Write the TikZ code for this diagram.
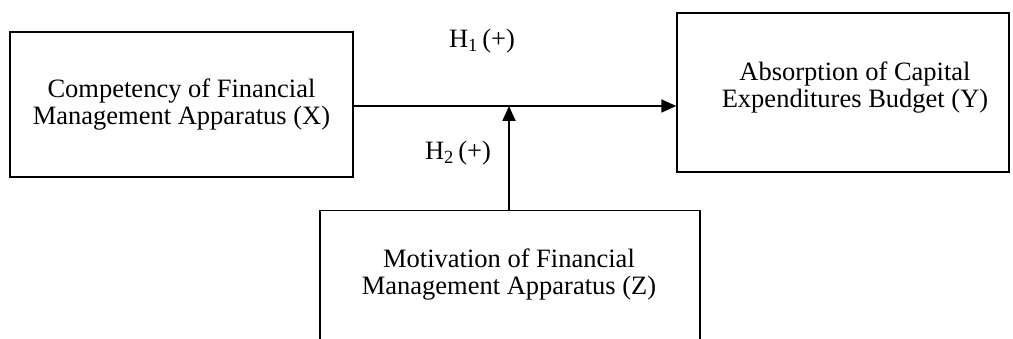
\documentclass[tikz,border=0pt]{standalone}
\usepackage{fontspec}
\setmainfont{Liberation Serif}
\usetikzlibrary{arrows.meta}
\begin{document}
\begin{tikzpicture}[x=1pt,y=1pt,
  box/.style={draw, line width=1.5pt, inner sep=0pt},
  lbl/.style={font=\fontsize{26.5}{27}\selectfont, align=center, inner sep=0pt},
  hyp/.style={font=\fontsize{26.5}{27}\selectfont, inner sep=0pt},
  conn/.style={line width=1.8pt, -{Triangle[length=15pt,width=13pt]}}]
\clip (0,0) rectangle (1013,-339);
\fill[white] (0,0) rectangle (1013,-339);
% boxes
\node[box, minimum width=343pt, minimum height=145pt] (X) at (181.5,-104.5) {};
\node[box, minimum width=332pt, minimum height=159pt] (Y) at (843,-92.5) {};
\node[box, minimum width=380pt, minimum height=180pt, anchor=north] (Z) at (510,-210) {};
% texts
\node[lbl] (Xt) at (181.5,-105) {Competency of Financial\\Management Apparatus (X)};
\node[lbl] (Yt) at (855,-88) {Absorption of Capital\\Expenditures Budget (Y)};
\node[lbl] (Zt) at (509,-275) {Motivation of Financial\\Management Apparatus (Z)};
% connectors
\coordinate (m) at (509,-106);
\draw[conn] (X.east |- 0,-106) -- (Y.west |- 0,-106);
\draw[conn] (Z.north -| m) -- (m);
\node[hyp] (h1) at (482,-41) {H\textsubscript{1}\,(+)};
\node[hyp] (h2) at (458,-153) {H\textsubscript{2}\,(+)};
\end{tikzpicture}
\end{document}
